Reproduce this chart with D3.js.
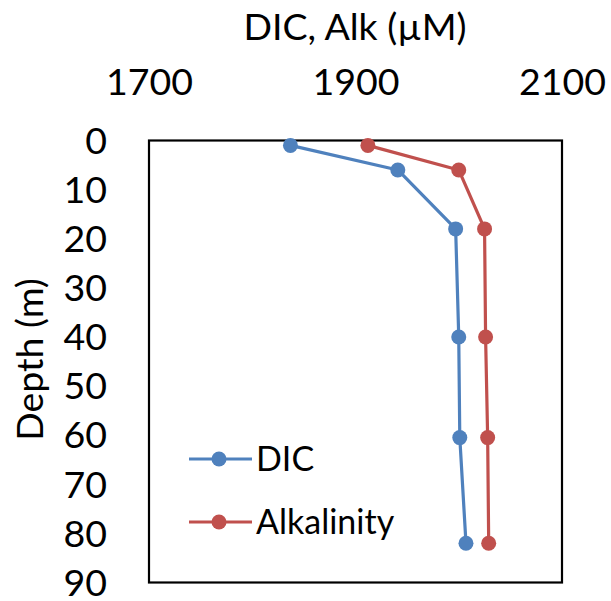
<!DOCTYPE html>
<html>
<head>
<meta charset="utf-8">
<script src="https://cdn.jsdelivr.net/npm/d3@7"></script>
<style>
  html, body { margin: 0; padding: 0; background: #fff; }
  svg { display: block; }
  text { font-family: Lato, "Open Sans", sans-serif; fill: #000; }
</style>
</head>
<body>
<svg id="chart" width="611" height="601"></svg>
<script>
// Sampling depths (m) and concentrations (µM)
const depths = [1, 6, 18, 40, 60.5, 82];
const dic = [1837, 1941, 1997, 2000, 2001, 2007];
const alkalinity = [1912, 2000, 2025, 2026, 2028, 2029];
const seriesNames = ["DIC", "Alkalinity"];
const seriesColors = ["#4F81BD", "#C0504D"];
const xTicks = [1700, 1900, 2100];
const yTicks = [0, 10, 20, 30, 40, 50, 60, 70, 80, 90];
const xTitle = "DIC, Alk (\u00B5M)";
const yTitle = "Depth (m)";

const svg = d3.select("#chart");
const box = { left: 149, right: 562, top: 140.5, bottom: 582.5 };
const fontSize = 37.5;
const legendFontSize = 34;

const x = d3.scaleLinear().domain([1700, 2100]).range([box.left, box.right]);
const y = d3.scaleLinear().domain([0, 90]).range([box.top, box.bottom]);

// Top value axis: labels only
const xAxis = d3.axisTop(x).tickValues(xTicks).tickSize(0).tickPadding(0).tickFormat(d3.format("d"));
const gx = svg.append("g").attr("transform", "translate(0,95)").call(xAxis);
gx.select(".domain").remove();
gx.selectAll("text").attr("font-size", fontSize).attr("font-family", null).attr("dy", 0);

// Left depth axis: labels only
const yAxis = d3.axisLeft(y).tickValues(yTicks).tickSize(0).tickPadding(0).tickFormat(d3.format("d"));
const gy = svg.append("g").attr("transform", "translate(107,0)").call(yAxis);
gy.select(".domain").remove();
gy.selectAll("text").attr("font-size", fontSize).attr("font-family", null).attr("dy", "0.34em");

// Axis titles
svg.append("text")
  .attr("x", 355)
  .attr("y", 40)
  .attr("text-anchor", "middle")
  .attr("font-size", fontSize)
  .text(xTitle);

svg.append("text")
  .attr("transform", `translate(43,${(box.top + box.bottom) / 2 - 2}) rotate(-90)`)
  .attr("text-anchor", "middle")
  .attr("font-size", fontSize)
  .text(yTitle);

// Plot frame
svg.append("rect")
  .attr("x", box.left).attr("y", box.top)
  .attr("width", box.right - box.left).attr("height", box.bottom - box.top)
  .attr("fill", "none").attr("stroke", "#000").attr("stroke-width", 2.2);

// Profiles
const series = [dic, alkalinity].map((vals, i) => ({
  name: seriesNames[i],
  color: seriesColors[i],
  points: vals.map((v, j) => ({ v, d: depths[j] }))
}));

const line = d3.line().x(p => x(p.v)).y(p => y(p.d));

const gs = svg.append("g").selectAll("g").data(series).join("g");
gs.append("path")
  .attr("d", s => line(s.points))
  .attr("fill", "none")
  .attr("stroke", s => s.color)
  .attr("stroke-width", 3.2)
  .attr("stroke-linejoin", "round");
gs.selectAll("circle")
  .data(s => s.points.map(p => ({ ...p, color: s.color })))
  .join("circle")
  .attr("cx", p => x(p.v))
  .attr("cy", p => y(p.d))
  .attr("r", 7.5)
  .attr("fill", p => p.color);

// Legend
const legend = svg.append("g").selectAll("g").data(series).join("g")
  .attr("transform", (s, i) => `translate(189,${459 + i * 63})`);
legend.append("line")
  .attr("x1", 0).attr("x2", 63)
  .attr("stroke", s => s.color).attr("stroke-width", 3.2);
legend.append("circle")
  .attr("cx", 30).attr("r", 7.5).attr("fill", s => s.color);
legend.append("text")
  .attr("x", 67).attr("dy", "0.36em")
  .attr("font-size", legendFontSize)
  .text(s => s.name);
</script>
</body>
</html>
